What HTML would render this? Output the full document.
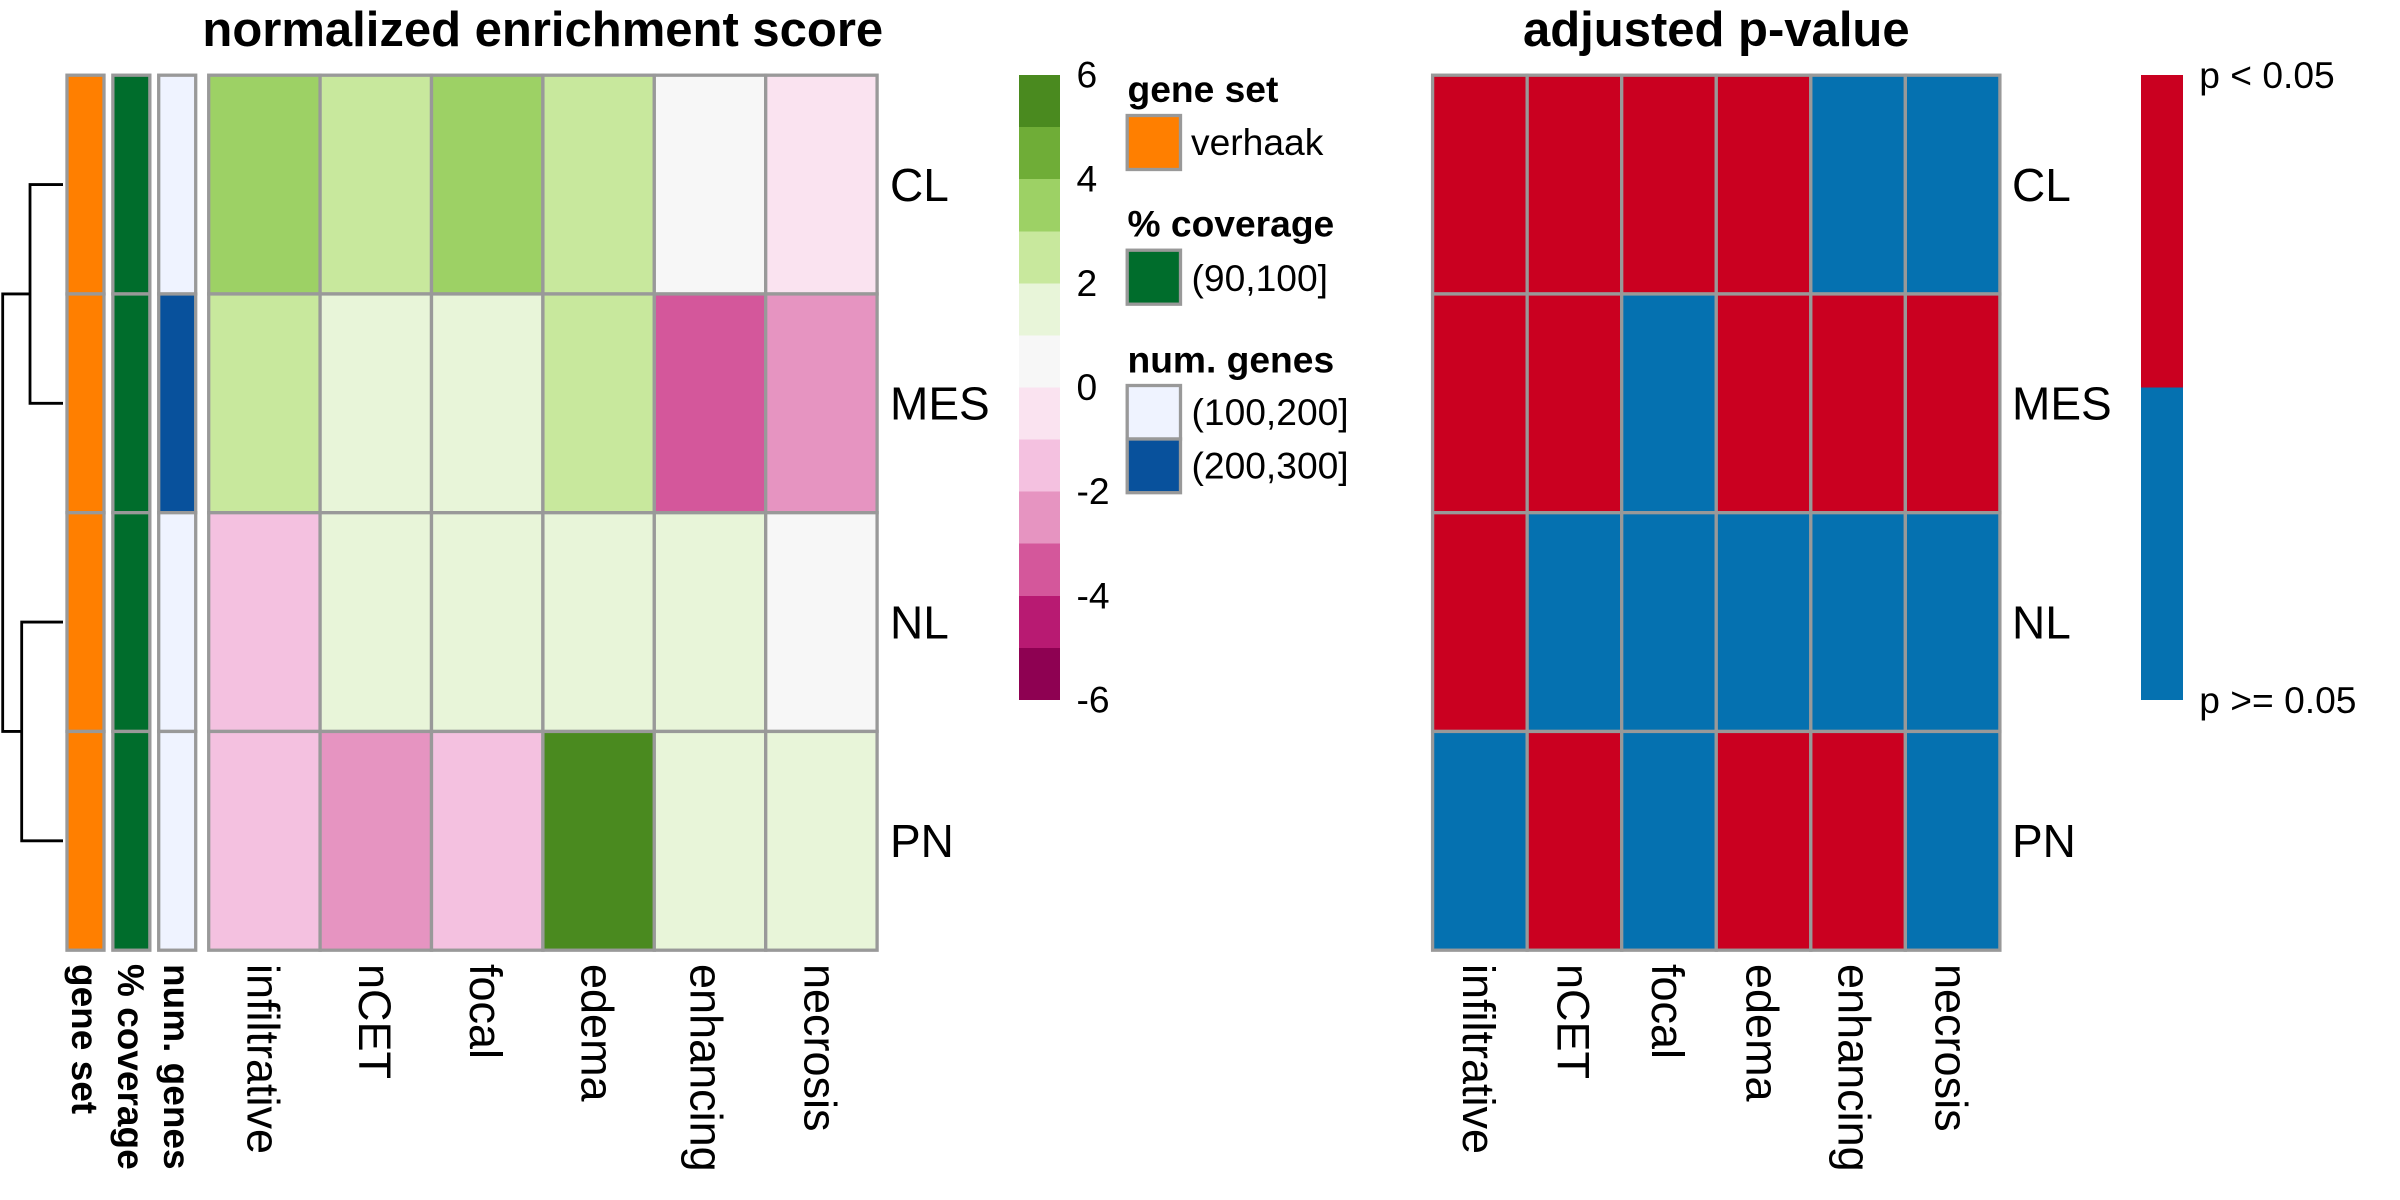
<!DOCTYPE html>
<html lang="en">
<head>
<meta charset="utf-8">
<title>Enrichment heatmaps</title>
<style>
html,body{margin:0;padding:0;background:#fff;}
svg{display:block;}
text{font-family:"Liberation Sans",Arial,sans-serif;fill:#000;}
.title{font-size:49px;font-weight:bold;text-anchor:middle;}
.lab{font-size:45px;}
.rowlab{font-size:46px;}
.annot{font-size:37px;font-weight:bold;}
.leg{font-size:37.2px;}
.legh{font-size:37.2px;font-weight:bold;}
</style>
</head>
<body>
<svg id="chart" xmlns="http://www.w3.org/2000/svg" width="2400" height="1200" viewBox="0 0 2400 1200">
  <rect x="0" y="0" width="2400" height="1200" fill="#ffffff"/>
  <text class="title" x="542.8" y="45.8">normalized enrichment score</text>
  <text class="title" x="1716.3" y="45.8">adjusted p-value</text>
  <g id="dendro"></g>
  <g id="annots"></g>
  <g id="nes"></g>
  <g id="pval"></g>
  <g id="nesbar"></g>
  <g id="pbar"></g>
  <g id="annotlegend">
    <text class="legh" x="1127.5" y="102">gene set</text>
    <rect x="1127.2" y="115.5" width="53.3" height="54" fill="#FF7F00" stroke="#999999" stroke-width="3.3"/>
    <text class="leg" x="1191" y="155">verhaak</text>
    <text class="legh" x="1127.5" y="236.3">% coverage</text>
    <rect x="1127.2" y="250.2" width="53.3" height="54" fill="#006D2C" stroke="#999999" stroke-width="3.3"/>
    <text class="leg" x="1191.5" y="291">(90,100]</text>
    <text class="legh" x="1127.5" y="372.3">num. genes</text>
    <rect x="1127.2" y="385.5" width="53.3" height="53.5" fill="#EFF3FF" stroke="#999999" stroke-width="3.3"/>
    <rect x="1127.2" y="439" width="53.3" height="53.7" fill="#08519C" stroke="#999999" stroke-width="3.3"/>
    <text class="leg" x="1191.5" y="425">(100,200]</text>
    <text class="leg" x="1191.5" y="478.5">(200,300]</text>
  </g>
</svg>
<script>
var rowNames = ["CL", "MES", "NL", "PN"];
var colNames = ["infiltrative", "nCET", "focal", "edema", "enhancing", "necrosis"];
var nesCL = [3.5, 2.5, 3.5, 2.5, 0.5, -0.5];
var nesMES = [2.5, 1.5, 1.5, 2.5, -3.5, -2.5];
var nesNL = [-1.5, 1.5, 1.5, 1.5, 1.5, 0.5];
var nesPN = [-1.5, -2.5, -1.5, 5.5, 1.5, 1.5];
var pvalCL = [0.01, 0.01, 0.01, 0.01, 0.3, 0.3];
var pvalMES = [0.01, 0.01, 0.3, 0.01, 0.01, 0.01];
var pvalNL = [0.01, 0.3, 0.3, 0.3, 0.3, 0.3];
var pvalPN = [0.3, 0.01, 0.3, 0.01, 0.01, 0.3];
var annotNames = ["gene set", "% coverage", "num. genes"];
var geneSetLevels = [0, 0, 0, 0];
var coverageLevels = [0, 0, 0, 0];
var numGeneLevels = [0, 1, 0, 0];
var nesTicks = [6, 4, 2, 0, -2, -4, -6];
var nesPalette = ["#8E0152", "#B81A72", "#D4579B", "#E694C1", "#F4C1E0", "#FAE3F0", "#F7F7F7", "#E8F5D9", "#C8E89D", "#9DD165", "#6FAD37", "#4A8A1F"];
var pvalTicks = ["p < 0.05", "p >= 0.05"];
var mergeHeights = [0.547, 0.685, 1.0];

var NS = "http://www.w3.org/2000/svg";
var GRID = "#999999";
var RED = "#CA0020";
var BLUE = "#0571B0";
var gridTop = 75.2, rowH = 218.75;
var annotFill = [["#FF7F00"], ["#006D2C"], ["#EFF3FF", "#08519C"]];

function yRow(i) { return gridTop + i * rowH; }
function xNes(j) { return 208.7 + j * 111.4; }
function xPval(j) { return 1432.6 + j * 94.55; }
function xAnnot(k) { return 67 + k * 45.85; }
function nesColor(v) {
  var idx = Math.floor(v + 6);
  idx = Math.max(0, Math.min(nesPalette.length - 1, idx));
  return nesPalette[idx];
}
function pvalColor(p) { return p < 0.05 ? RED : BLUE; }
function yBar(v) { return 387.5 - v * 52.08; }
function xDendro(h) { return 63 - h * 60.3; }
function rowCentre(i) { return yRow(i) + rowH / 2; }
function make(tag, parent) {
  var el = document.createElementNS(NS, tag);
  parent.appendChild(el);
  return el;
}
function setAll(el, attrs) {
  for (var k in attrs) { el.setAttribute(k, attrs[k]); }
}
function colLabelX(centre, label) {
  return centre - (/[gjpqy]/.test(label) ? 19.5 : 17);
}

function drawCells(parent, xf, w, rows, colorFn) {
  rows.forEach(function (vals, i) {
    vals.forEach(function (v, j) {
      var r = make("rect", parent);
      setAll(r, { x: xf(j), y: yRow(i), width: w, height: rowH, fill: colorFn(v), stroke: GRID, "stroke-width": 3.3 });
      
      
    });
  });
}
function drawRowLabels(parent, x) {
  rowNames.forEach(function (name, i) {
    var t = make("text", parent);
    setAll(t, { x: x, y: rowCentre(i) + 16.3, "class": "rowlab" });
    t.textContent = name;
    
    
  });
}
function drawColLabels(parent, xf, w) {
  colNames.forEach(function (name, j) {
    var t = make("text", parent);
    var lx = colLabelX(xf(j) + w / 2, name);
    setAll(t, { x: lx, y: 964, "class": "lab", transform: "rotate(90 " + lx + " 964)" });
    t.textContent = name;
    
    
  });
}

var nesG = document.getElementById("nes");
var pvalG = document.getElementById("pval");
drawCells(nesG, xNes, 111.4, [nesCL, nesMES, nesNL, nesPN], nesColor);
drawCells(pvalG, xPval, 94.55, [pvalCL, pvalMES, pvalNL, pvalPN], pvalColor);
drawRowLabels(nesG, 890);
drawRowLabels(pvalG, 2012);
drawColLabels(nesG, xNes, 111.4);
drawColLabels(pvalG, xPval, 94.55);

var annotG = document.getElementById("annots");
[geneSetLevels, coverageLevels, numGeneLevels].forEach(function (levels, k) {
  levels.forEach(function (lv, i) {
    var r = make("rect", annotG);
    setAll(r, { x: xAnnot(k), y: yRow(i), width: 37, height: rowH, fill: annotFill[k][lv], stroke: GRID, "stroke-width": 3.3 });
    
    
  });
  var t = make("text", annotG);
  var lx = xAnnot(k) + 18.5 - 13.3;
  setAll(t, { x: lx, y: 964, "class": "annot", transform: "rotate(90 " + lx + " 964)" });
  t.textContent = annotNames[k];
  
  
});

var dendroG = document.getElementById("dendro");
function dendroPath(d) {
  var p = make("path", dendroG);
  setAll(p, { d: d, fill: "none", stroke: "#000000", "stroke-width": 2.8 });
  
  
}
var leafX = xDendro(0);
var xA = xDendro(mergeHeights[0]), xB = xDendro(mergeHeights[1]), xR = xDendro(mergeHeights[2]);
var yA = (rowCentre(0) + rowCentre(1)) / 2, yB = (rowCentre(2) + rowCentre(3)) / 2;
dendroPath("M" + leafX + " " + rowCentre(0) + "H" + xA + "V" + rowCentre(1) + "H" + leafX);
dendroPath("M" + leafX + " " + rowCentre(2) + "H" + xB + "V" + rowCentre(3) + "H" + leafX);
dendroPath("M" + xA + " " + yA + "H" + xR + "V" + yB + "H" + xB);

var nesBarG = document.getElementById("nesbar");
nesPalette.forEach(function (c, i) {
  var v = i - 6;
  var r = make("rect", nesBarG);
  setAll(r, { x: 1019, y: yBar(v + 1), width: 41, height: yBar(v) - yBar(v + 1), fill: c, "shape-rendering": "crispEdges" });
  
  
});
nesTicks.forEach(function (v) {
  var t = make("text", nesBarG);
  setAll(t, { x: 1076.5, y: yBar(v) + 12.5, "class": "leg" });
  t.textContent = String(v);
  
  
});

var pBarG = document.getElementById("pbar");
[RED, BLUE].forEach(function (c, i) {
  var r = make("rect", pBarG);
  setAll(r, { x: 2141, y: 75 + i * 312.5, width: 42, height: 312.5, fill: c, "shape-rendering": "crispEdges" });
  
  
});
pvalTicks.forEach(function (label, i) {
  var t = make("text", pBarG);
  setAll(t, { x: 2199.3, y: 88 + i * 625, "class": "leg" });
  t.textContent = label;
  
  
});
</script>
</body>
</html>
